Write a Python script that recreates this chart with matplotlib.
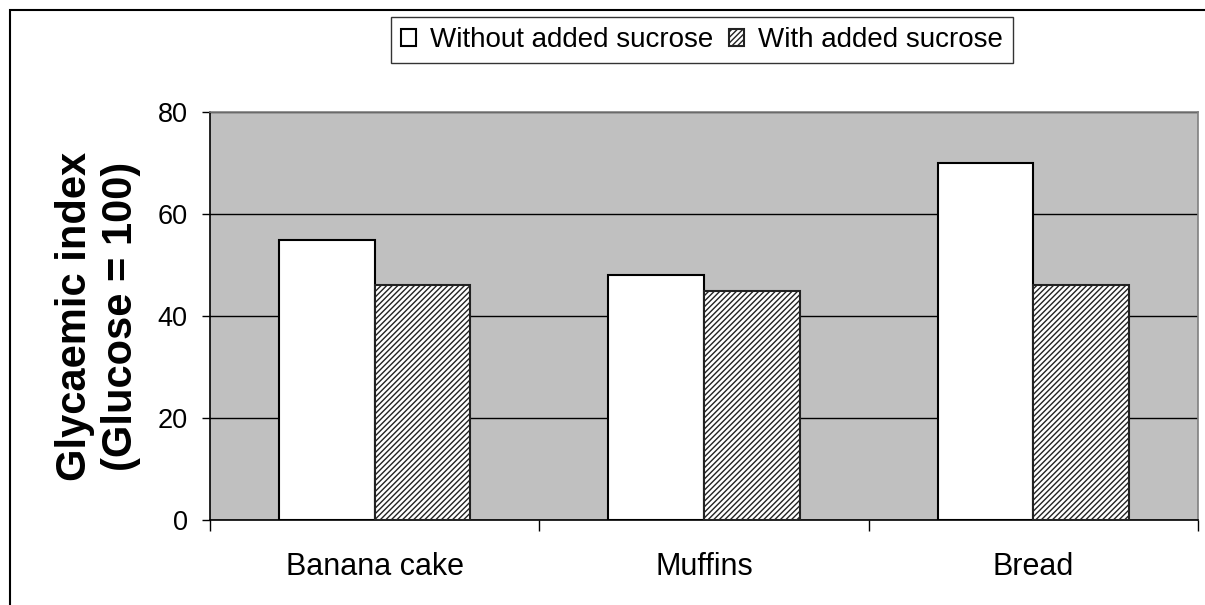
import matplotlib
matplotlib.use("Agg")
import matplotlib.pyplot as plt
import matplotlib.patches as mpatches
import numpy as np

# glycaemic index of the test foods
foods = ["Banana cake", "Muffins", "Bread"]
without_sucrose = [55, 48, 70]
with_sucrose = [46, 45, 46]
series_names = ["Without added sucrose", "With added sucrose"]
y_ticks = [0, 20, 40, 60, 80]

plt.rcParams['font.family'] = ['Liberation Sans', 'DejaVu Sans']
plt.rcParams['hatch.linewidth'] = 1.0
plt.rcParams['hatch.color'] = '#222222'

fig = plt.figure(figsize=(12.05, 6.05), dpi=100)
ax = fig.add_axes([210/1205, 1-520/605, 988/1205, 408/605])

x = np.arange(len(foods))
w = 0.29
ax.bar(x - w/2, without_sucrose, w, color='white', edgecolor='black',
       linewidth=1.5, label=series_names[0], zorder=3)
ax.bar(x + w/2, with_sucrose, w, color='white', edgecolor='#222222',
       hatch='//////', linewidth=1.5, label=series_names[1], zorder=3)

ax.set_facecolor('#c0c0c0')
ax.set_xlim(-0.5, len(foods) - 0.5)
ax.set_ylim(0, 80)
ax.set_yticks(y_ticks)
ax.yaxis.grid(True, color='black', linewidth=1.0, zorder=1)
ax.set_axisbelow(True)

# category boundaries get tick marks, names sit in between
ax.set_xticks(np.arange(len(foods) + 1) - 0.5)
ax.set_xticklabels([])
ax.set_xticks(x, minor=True)
ax.set_xticklabels(foods, minor=True, fontsize=22)
ax.tick_params(axis='x', which='major', length=8, width=1, direction='out')
ax.tick_params(axis='x', which='minor', length=0, pad=23)
ax.tick_params(axis='y', length=6, width=1, direction='out', pad=10,
               labelsize=19.5)

for s in ['top', 'right']:
    ax.spines[s].set_color('#808080')
    ax.spines[s].set_linewidth(1.2)
for s in ['left', 'bottom']:
    ax.spines[s].set_color('black')
    ax.spines[s].set_linewidth(1.2)

ax.set_ylabel("Glycaemic index\n(Glucose = 100)", fontsize=30,
              fontweight='bold', labelpad=12, linespacing=1.2)

leg = fig.legend(loc='center', bbox_to_anchor=(702/1205, 1-40/605),
                 ncol=2, fontsize=20, frameon=True, fancybox=False,
                 edgecolor='black', handlelength=0.55, handleheight=0.55,
                 handletextpad=0.5, columnspacing=0.55, borderpad=0.35,
                 borderaxespad=0)
leg.get_frame().set_linewidth(1.0)

# chart area frame, only the top and left edges fall inside the image
frame = mpatches.Rectangle((10/1205, -0.2), 1.3, 1.2 - 10/605,
                           transform=fig.transFigure, fill=False,
                           edgecolor='black', linewidth=1.5, clip_on=False)
fig.patches.append(frame)

fig.savefig("out.png", dpi=100, facecolor='white')
